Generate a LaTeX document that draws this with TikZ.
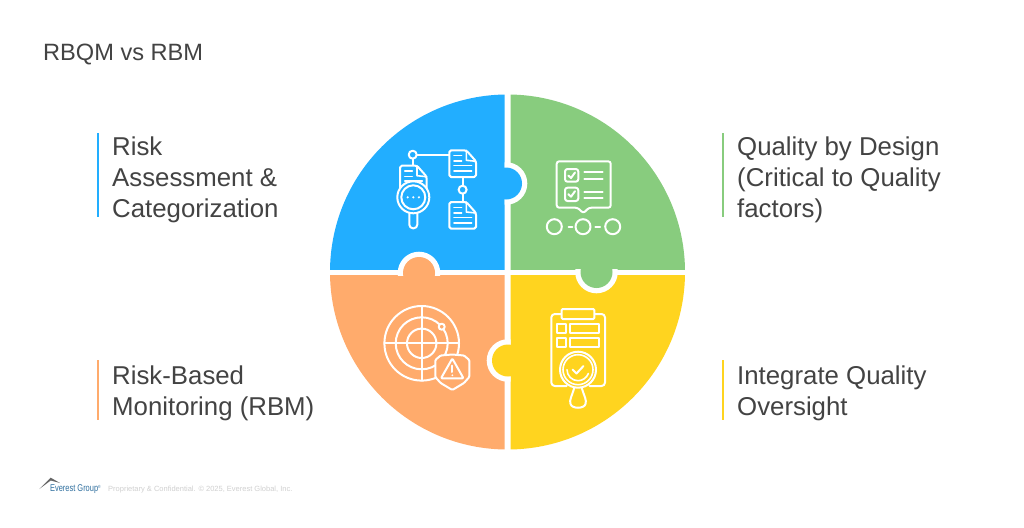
\documentclass[tikz,border=0pt]{standalone}
\usepackage{fontspec}
\setmainfont{Liberation Sans}
\definecolor{cblue}{HTML}{22AEFF}
\definecolor{cgreen}{HTML}{88CC7E}
\definecolor{corange}{HTML}{FFAB6C}
\definecolor{cyellow}{HTML}{FFD41F}
\definecolor{ctext}{HTML}{434343}
\definecolor{clogo}{HTML}{2F6F9F}
\definecolor{cfoot}{HTML}{D0D0D0}
\tikzset{
  label text/.style={anchor=north west,inner sep=0pt,align=left,text=ctext,font=\fontsize{25.8}{31}\selectfont},
  icon/.style={draw=white,line width=2pt,line join=round,line cap=round},
  thin icon/.style={icon,line width=1.6pt},
  bar/.style={line width=2pt},
}
\newcommand{\quadfill}[5]{% colour, x1,y1,x2,y2
  \begin{scope}
    \clip (#2,#3) rectangle (#4,#5);
    \fill[#1] (507.5,272) circle[radius=177.5pt];
  \end{scope}}
\newcommand{\tabfill}[7]{% colour, cx,cy, x1,y1,x2,y2 (target quadrant)
  \begin{scope}
    \clip (#4,#5) rectangle (#6,#7);
    \fill[white] (#2,#3) circle[radius=21.3pt];
  \end{scope}
  \fill[#1] (#2,#3) circle[radius=16pt];}
\newcommand{\docicon}[3]{% x, y, colour
  \begin{scope}[shift={(#1,#2)}]
    \draw[icon,rounded corners=1.8pt,fill=#3] (0,0) -- (17,0) -- (26.7,11) -- (26.7,26.7) -- (0,26.7) -- cycle;
    \draw[thin icon] (17,0) -- (17,10) -- (26.7,11);
    \draw[thin icon] (4.7,5.3) -- (12.3,5.3) (4.7,10.7) -- (12.3,10.7) (4.7,15.3) -- (22.3,15.3) (4.7,20.7) -- (22.3,20.7);
  \end{scope}}
\begin{document}
\begin{tikzpicture}[x=1pt,y=-1pt]
\useasboundingbox (0,0) rectangle (1024,527);
\fill[white] (0,0) rectangle (1024,527);
% quadrants
\quadfill{cblue}{320}{85}{504.5}{269.5}
\quadfill{cgreen}{510.5}{85}{695}{269.5}
\quadfill{corange}{320}{275}{504.5}{460}
\quadfill{cyellow}{510.5}{275}{695}{460}
% puzzle tabs
\tabfill{cblue}{506}{183.5}{504.5}{85}{695}{269.5}
\tabfill{cgreen}{596.5}{272}{510.5}{269.5}{695}{460}
\tabfill{corange}{419}{273}{320}{85}{504.5}{275}
\tabfill{cyellow}{508}{360.5}{320}{275}{510.5}{460}
% blue icon
\draw[icon] (412.7,158.7) -- (412.7,165.7);
\draw[icon] (416.7,154.7) -- (449.3,154.7);
\draw[icon] (412.7,154.7) circle[radius=4pt];
\draw[icon] (462.6,177) -- (462.6,185.7) (462.6,193.7) -- (462.6,202.3);
\draw[icon] (462.6,189.7) circle[radius=4pt];
\docicon{449.3}{150.3}{cblue}
\docicon{449.3}{202}{cblue}
\docicon{400}{165.7}{cblue}
\draw[icon,fill=cblue] (413.3,197.3) circle[radius=16pt];
\draw[icon] (413.3,197.3) circle[radius=12pt];
\fill[white] (407.7,197.3) circle[radius=1.2pt] (413.3,197.3) circle[radius=1.2pt] (418.9,197.3) circle[radius=1.2pt];
\draw[icon,rounded corners=3.6pt] (409.3,213.3) -- (409.3,228.3) -- (417.3,228.3) -- (417.3,213.3);
% green icon
\draw[icon,rounded corners=2.5pt] (556.7,161.3) -- (610.7,161.3) -- (610.7,207.7) -- (588.9,207.7) -- (583.3,213.3) -- (577.7,207.7) -- (556.7,207.7) -- cycle;
\draw[icon,rounded corners=2.5pt] (565,169) rectangle (578.3,181.7);
\draw[icon,rounded corners=2.5pt] (565,187.7) rectangle (578.3,201);
\draw[icon] (568.3,175.5) -- (571,178) -- (575,172.5);
\draw[icon] (568.3,194.2) -- (571,196.7) -- (575,191.2);
\draw[icon] (584.3,172.3) -- (602.7,172.3) (584.3,178.7) -- (602.7,178.7) (584.3,192) -- (602.7,192) (584.3,198) -- (602.7,198);
\draw[icon] (554.3,226.7) circle[radius=7.5pt] (583,226.7) circle[radius=7.5pt] (612.7,226.7) circle[radius=7.5pt];
\draw[icon] (568.6,226.7) -- (572.4,226.7) (595.3,226.7) -- (600.2,226.7);
% orange icon
\draw[icon] (421.7,343.3) circle[radius=37.3pt] (421.7,343.3) circle[radius=26pt] (421.7,343.3) circle[radius=14.7pt];
\draw[icon] (421.7,306) -- (421.7,380.6) (384.4,343.3) -- (459,343.3);
\draw[icon,fill=corange] (441.7,326.7) circle[radius=3pt];
\draw[icon,fill=corange,rounded corners=1pt] (452.3,354.5) -- (464,355.5) -- (469.3,360) -- (469.3,377) -- (464,383) -- (452.3,390) -- (440.6,383) -- (435.3,377) -- (435.3,360) -- (440.6,355.5) -- cycle;
\draw[icon,rounded corners=1pt] (452.3,358.5) -- (463.5,378.3) -- (441,378.3) -- cycle;
\draw[icon] (452.3,365.5) -- (452.3,372);
\fill[white] (452.3,375.3) circle[radius=1pt];
% yellow icon
\draw[icon,rounded corners=3.5pt] (561.7,314) -- (551.3,314) -- (551.3,386) -- (566.7,386);
\draw[icon,rounded corners=3.5pt] (594.3,314) -- (605,314) -- (605,386) -- (589.5,386);
\draw[icon,rounded corners=1pt,fill=cyellow] (561.7,309) rectangle (594.3,319);
\draw[icon] (557.3,324.3) rectangle (566,332.7) (557.3,338.3) rectangle (566,347);
\draw[icon] (570.3,324.3) rectangle (599.3,332.7) (570.3,338.3) rectangle (599.3,347);
\draw[icon,fill=cyellow] (578,369.7) circle[radius=18pt];
\draw[thin icon] (578,369.7) circle[radius=15pt];
\draw[thin icon] (567,369.7) arc[start angle=180,end angle=340,radius=11pt];
\draw[icon] (572.5,369.5) -- (576.5,373.5) -- (583.5,366);
\draw[icon] (574.3,387.7) .. controls (572,396) and (569,400) .. (570.5,404) .. controls (572,409) and (584,409) .. (585.5,404) .. controls (587,400) and (584,396) .. (581.7,387.7);
% bars
\draw[bar,cblue] (98,133) -- (98,217);
\draw[bar,cgreen] (723,133) -- (723,217);
\draw[bar,corange] (98,360) -- (98,420);
\draw[bar,cyellow] (723,360) -- (723,420);
% texts
\node[anchor=base west,inner sep=0pt,text=ctext,font=\fontsize{23.6}{28}\selectfont] (title) at (43,60) {RBQM vs RBM};
\node[label text] (t1) at (112,137) {Risk\\Assessment \&\\Categorization};
\node[label text] (t2) at (737,137) {Quality by Design\\(Critical to Quality\\factors)};
\node[label text] (t3) at (112,366) {Risk-Based\\Monitoring (RBM)};
\node[label text] (t4) at (737,366) {Integrate Quality\\Oversight};
% footer
\fill[gray!80!black] (39.3,489) -- (50.7,477.7) -- (60,483) -- (50.7,480.5) -- cycle;
\node[anchor=base west,inner sep=0pt,text=clogo,xscale=0.76,transform shape,font=\fontsize{9.8}{11}\selectfont] (logo) at (50,491.5) {Everest Group\raisebox{3pt}{\fontsize{4.5}{4.5}\selectfont ®}};
\node[anchor=base west,inner sep=0pt,text=cfoot,font=\fontsize{7.5}{9}\selectfont] (foot) at (108,491) {Proprietary \& Confidential. © 2025, Everest Global, Inc.};
\end{tikzpicture}
\end{document}
